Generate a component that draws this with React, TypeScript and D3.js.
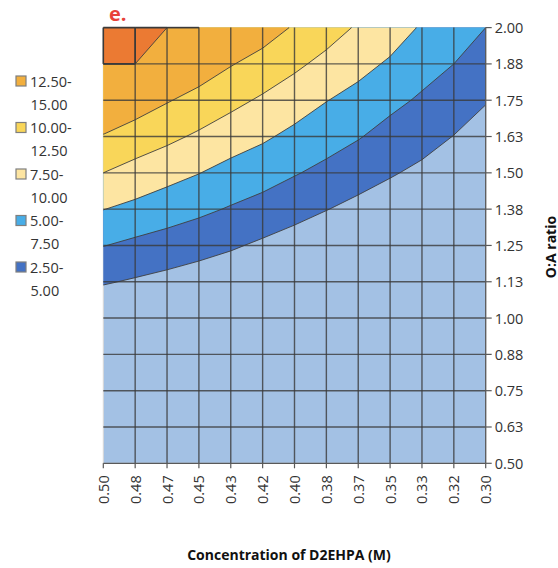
import React from 'react';
import * as d3 from 'd3';

// Category labels
const concentrationLabels = ["0.50", "0.48", "0.47", "0.45", "0.43", "0.42", "0.40", "0.38", "0.37", "0.35", "0.33", "0.32", "0.30"];
const ratioLabels = ["0.50", "0.63", "0.75", "0.88", "1.00", "1.13", "1.25", "1.38", "1.50", "1.63", "1.75", "1.88", "2.00"];

// Surface values, one array per O:A ratio (columns follow concentrationLabels)
const r050 = [0, 0, 0, 0, 0, 0, 0, 0, 0, 0, 0, 0, 0];
const r063 = [0, 0, 0, 0, 0, 0, 0, 0, 0, 0, 0, 0, 0];
const r075 = [0, 0, 0, 0, 0, 0, 0, 0, 0, 0, 0, 0, 0];
const r088 = [0, 0, 0, 0, 0, 0, 0, 0, 0, 0, 0, 0, 0];
const r100 = [0.35, 0.02, 0, 0, 0, 0, 0, 0, 0, 0, 0, 0, 0];
const r113 = [2.71, 2.25, 1.78, 1.29, 0.8, 0.08, 0, 0, 0, 0, 0, 0, 0];
const r125 = [5.07, 4.45, 3.97, 3.41, 2.8, 2.1, 1.45, 0.77, 0.2, 0, 0, 0, 0];
const r138 = [7.55, 6.9, 6.15, 5.51, 4.8, 4.11, 3.32, 2.57, 1.85, 1.29, 0.7, 0, 0];
const r150 = [10.0, 9.12, 8.35, 7.56, 6.7, 6.03, 5.17, 4.37, 3.51, 2.71, 2.02, 1.17, 0.31];
const r163 = [12.36, 11.41, 10.55, 9.63, 8.67, 7.86, 6.9, 6.01, 5.16, 4.14, 3.35, 2.45, 1.48];
const r175 = [14.72, 13.77, 12.67, 11.72, 10.67, 9.66, 8.67, 7.57, 6.72, 5.63, 4.67, 3.72, 2.65];
const r188 = [15, 15, 14.79, 13.82, 12.64, 11.63, 10.47, 9.32, 8.24, 7.19, 5.96, 5.0, 3.83];
const r200 = [15, 15, 15, 15, 14.61, 13.64, 12.27, 11.07, 9.72, 8.7, 7.25, 6.2, 5.0];
const valueRows = [r050, r063, r075, r088, r100, r113, r125, r138, r150, r163, r175, r188, r200];

// Bands
const baseColor = "#A3C1E4";
const bandThresholds = [2.5, 5, 7.5, 10, 12.5, 15];
const bandColors = ["#4472C4", "#48ADE7", "#FDE5A2", "#F9D659", "#F2AF3E", "#EB7A33"];

// Legend
const legendLines = [["12.50-", "15.00"], ["10.00-", "12.50"], ["7.50-", "10.00"], ["5.00-", "7.50"], ["2.50-", "5.00"]];
const legendColors = ["#F2AF3E", "#F9D659", "#FDE5A2", "#48ADE7", "#4472C4"];

const W = 558, H = 568;
const X0 = 103.3, X1 = 485.7, Y0 = 27.6, Y1 = 463.3;
const FONT = "'Open Sans', 'Noto Sans', sans-serif";
const TXT = "#333333";

export default function App() {
  const nx = concentrationLabels.length;
  const ny = ratioLabels.length;
  const xs = d3.scalePoint<string>().domain(concentrationLabels).range([X0, X1]);
  const ys = d3.scalePoint<string>().domain(ratioLabels).range([Y1, Y0]);

  // flatten grid, top row first
  const flat: number[] = [];
  for (let k = ny - 1; k >= 0; k--) flat.push(...valueRows[k]);
  const contours = d3.contours().size([nx, ny]).thresholds(bandThresholds)(flat);
  const gx = d3.scaleLinear().domain([0.5, nx - 0.5]).range([X0, X1]);
  const gy = d3.scaleLinear().domain([0.5, ny - 0.5]).range([Y0, Y1]);
  const proj = d3.geoTransform({
    point: function (this: any, x: number, y: number) {
      this.stream.point(gx(x), gy(y));
    },
  });
  const path = d3.geoPath(proj as any);

  // edges lying exactly on a threshold
  const exactEdges: { x1: number; y1: number; x2: number; y2: number }[] = [];
  for (let j = 0; j < ny; j++) {
    for (let i = 0; i < nx; i++) {
      const v = valueRows[j][i];
      if (!bandThresholds.includes(v)) continue;
      if (i + 1 < nx && valueRows[j][i + 1] === v)
        exactEdges.push({ x1: xs(concentrationLabels[i])!, y1: ys(ratioLabels[j])!, x2: xs(concentrationLabels[i + 1])!, y2: ys(ratioLabels[j])! });
      if (j + 1 < ny && valueRows[j + 1][i] === v)
        exactEdges.push({ x1: xs(concentrationLabels[i])!, y1: ys(ratioLabels[j])!, x2: xs(concentrationLabels[i])!, y2: ys(ratioLabels[j + 1])! });
    }
  }

  return (
    <svg width={W} height={H} style={{ position: 'absolute', left: 0, top: 0, background: '#fff' }} fontFamily={FONT}>
      <defs>
        <clipPath id="plotClip">
          <rect x={X0} y={Y0} width={X1 - X0} height={Y1 - Y0} />
        </clipPath>
      </defs>
      <text x={109} y={21} fontSize={20} fontWeight={700} fill="#E8413A">e.</text>

      <rect x={X0} y={Y0} width={X1 - X0} height={Y1 - Y0} fill={baseColor} stroke="#D9D9D9" strokeWidth={1} />
      <g clipPath="url(#plotClip)">
        {contours.map((c, k) => (
          <path key={k} d={path(c as any) || ''} fill={bandColors[k]} stroke="#3f3f3f" strokeWidth={0.9} strokeLinejoin="round" />
        ))}
      </g>
      {/* grid */}
      <g stroke="#3a3a3a" strokeOpacity={0.8} strokeWidth={1.4}>
        {concentrationLabels.slice(1, -1).map((c) => (
          <line key={c} x1={xs(c)} x2={xs(c)} y1={Y0} y2={Y1} />
        ))}
        {ratioLabels.slice(1, -1).map((r) => (
          <line key={r} x1={X0} x2={X1} y1={ys(r)} y2={ys(r)} />
        ))}
      </g>
      <g stroke="#3a3a3a" strokeWidth={1.6}>
        {exactEdges.map((e, k) => (
          <line key={k} x1={e.x1} y1={e.y1} x2={e.x2} y2={e.y2} />
        ))}
      </g>

      {/* bottom axis */}
      <line x1={X0} x2={X1} y1={Y1} y2={Y1} stroke="#595959" strokeWidth={1.3} />
      {concentrationLabels.map((c) => (
        <g key={c} transform={`translate(${xs(c)},${Y1})`}>
          <line y1={0} y2={5} stroke="#595959" strokeWidth={1.2} />
          <text transform="rotate(-90)" x={-12} y={0} textAnchor="end" dominantBaseline="central" fontSize={14.5} fill={TXT}>{c}</text>
        </g>
      ))}
      {/* right axis */}
      <line x1={X1} x2={X1} y1={Y0} y2={Y1} stroke="#595959" strokeWidth={1.3} />
      {ratioLabels.map((r) => (
        <g key={r} transform={`translate(${X1},${ys(r)})`}>
          <line x1={0} x2={6} stroke="#595959" strokeWidth={1.2} />
          <text x={9} y={0} dominantBaseline="central" fontSize={14.5} fill={TXT}>{r}</text>
        </g>
      ))}

      <text transform={`translate(550,247) rotate(-90)`} textAnchor="middle" dominantBaseline="central" fontSize={14} fontWeight={700} fill="#111">O:A ratio</text>
      <text x={289} y={554} textAnchor="middle" dominantBaseline="central" fontSize={14} fontWeight={700} fill="#111">Concentration of D2EHPA (M)</text>

      {/* legend */}
      {legendLines.map((lines, k) => {
        const cy = 81 + k * 46.5;
        return (
          <g key={k}>
            <rect x={16} y={cy - 5} width={10} height={10} fill={legendColors[k]} stroke="#7f7f7f" strokeWidth={1.2} />
            <text x={30} y={cy} dominantBaseline="central" fontSize={14.5} fill={TXT}>{lines[0]}</text>
            <text x={30.5} y={cy + 23} dominantBaseline="central" fontSize={14.5} fill={TXT}>{lines[1]}</text>
          </g>
        );
      })}
    </svg>
  );
}
